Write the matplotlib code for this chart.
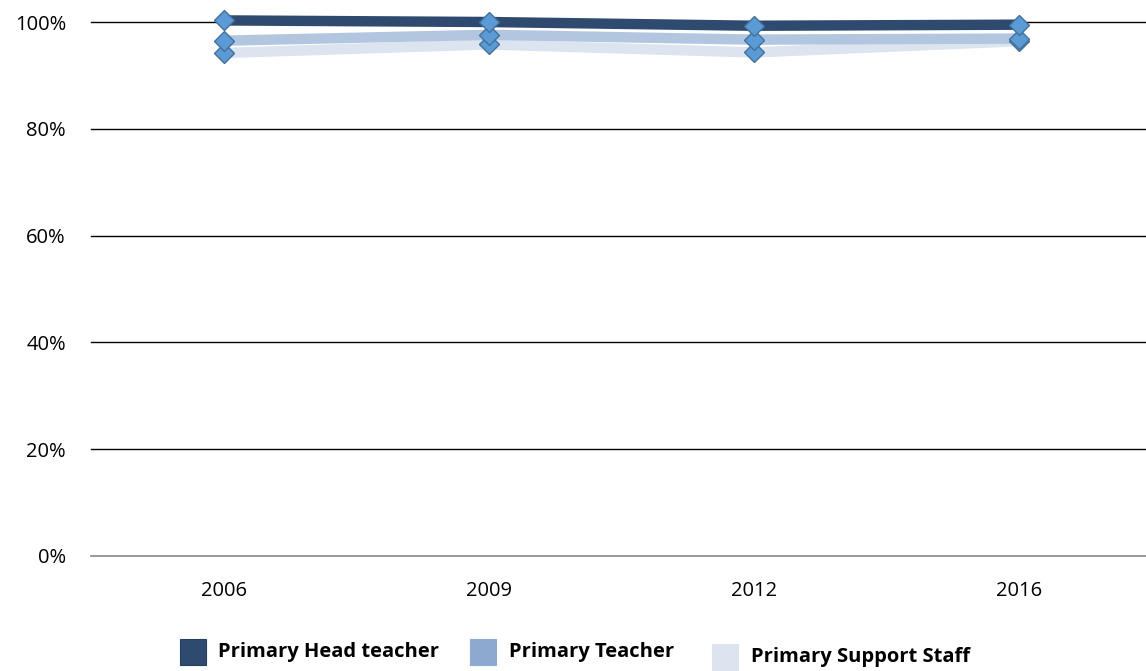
import matplotlib
matplotlib.use("Agg")
import matplotlib.pyplot as plt
from matplotlib.patches import Rectangle

years = ["2006", "2009", "2012", "2016"]
head_teacher = [100.3, 100.0, 99.3, 99.5]
teacher = [96.5, 97.6, 96.7, 96.9]
support_staff = [94.2, 95.8, 94.3, 96.4]
series_names = ["Primary Head teacher", "Primary Teacher", "Primary Support Staff"]
y_ticks = [0, 20, 40, 60, 80, 100]

line_colors = ["#2E4A6F", "#B3C6E0", "#DCE4F0"]
legend_colors = ["#2E4A6F", "#8EA9D0", "#DCE4F0"]

plt.rcParams['font.family'] = ['Open Sans', 'DejaVu Sans']

fig = plt.figure(figsize=(11.46, 6.71), dpi=100)
ax = fig.add_axes([0.0794, 0.1714, 0.9206, 0.7958])

x = list(range(len(years)))
for ys, c, z in [(support_staff, line_colors[2], 2), (teacher, line_colors[1], 3), (head_teacher, line_colors[0], 4)]:
    ax.plot(x, ys, color=c, lw=7.5, solid_capstyle='butt', zorder=z, clip_on=False)
for ys in [support_staff, teacher, head_teacher]:
    ax.plot(x, ys, ls='none', marker='D', markersize=10.5, markerfacecolor='#5B9BD5',
            markeredgecolor='#41719C', markeredgewidth=1.0, zorder=6, clip_on=False)

ax.set_xlim(-0.5, 3.48)
ax.set_ylim(0, 100)
ax.set_yticks(y_ticks)
ax.set_yticklabels([f"{t}%" for t in y_ticks], fontsize=14.5)
ax.set_xticks(x)
ax.set_xticklabels(years, fontsize=14.5)
ax.yaxis.grid(True, color='black', lw=1.0)
for gl in ax.get_ygridlines():
    gl.set_clip_on(False)
ax.get_ygridlines()[0].set_visible(False)
ax.set_axisbelow(True)
for s in ["top", "left", "right"]:
    ax.spines[s].set_visible(False)
ax.spines["bottom"].set_color("#868686")
ax.spines["bottom"].set_linewidth(1.2)
ax.tick_params(axis='y', length=0, pad=18)
ax.tick_params(axis='x', length=0, pad=18)

# legend
W, H = 1146, 671
items = [(180, 639, 218, 652), (470, 639, 509, 652), (712, 644, 751, 657)]
for (px, py, tx, ty), c, name in zip(items, legend_colors, series_names):
    fig.patches.append(Rectangle((px / W, 1 - (py + 26) / H), 26 / W, 26 / H,
                                 transform=fig.transFigure, facecolor=c,
                                 edgecolor='#25405F' if c == legend_colors[0] else c, lw=0.8))
    fig.text(tx / W, 1 - ty / H, name, fontsize=14.5, fontweight='bold', va='center', ha='left')

fig.savefig("out.png", dpi=100)
